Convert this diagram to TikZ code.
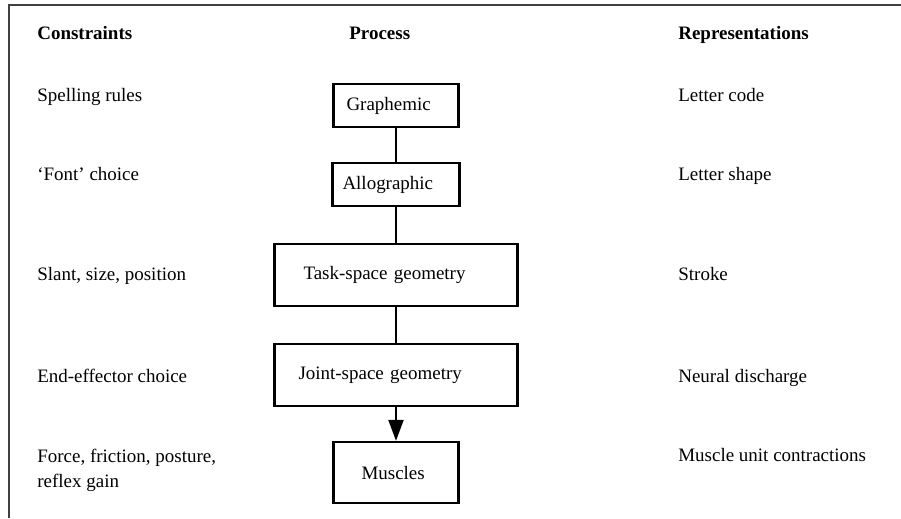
\documentclass[tikz,border=0pt]{standalone}
\usepackage{fontspec}
\setmainfont{Liberation Serif}
\usetikzlibrary{arrows.meta}

\begin{document}
\begin{tikzpicture}[
    txt/.style={anchor=base west, inner sep=0pt, align=left,
                font=\fontsize{10.8}{14.2}\selectfont},
    proc/.style={draw, line width=1.3pt, align=left, inner ysep=0pt,
                 font=\fontsize{10.8}{14.2}\selectfont},
    link/.style={line width=1.3pt},
    arr/.style={-{Triangle[length=4.2mm,width=3mm]}, line width=1.3pt},
    frame/.style={line width=1pt, black!75}
  ]
  \useasboundingbox (0,0) rectangle (18.02,-10.36);
  \draw[frame] (0.18,-10.36) -- (0.18,-0.1) -- (18.02,-0.1);

  % column heads
  \node[txt] (hcon) at (0.74,-0.78)  {\textbf{Constraints}};
  \node[txt] (hpro) at (6.98,-0.78)  {\textbf{Process}};
  \node[txt] (hrep) at (13.56,-0.78) {\textbf{Representations}};

  % process boxes
  \node[proc, inner xsep=2.6mm, text width=19.8mm, minimum height=8.6mm]
    (graph) at (7.92,-2.11) {Graphemic};
  \node[proc, inner xsep=2mm, text width=21.4mm, minimum height=8.6mm]
    (allo) at (7.92,-3.69) {Allographic};
  \node[proc, inner xsep=5.8mm, text width=37mm, minimum height=12.4mm]
    (task) at (7.92,-5.5) {Task-space geometry};
  \node[proc, inner xsep=4.8mm, text width=39mm, minimum height=12.4mm]
    (joint) at (7.92,-7.5) {Joint-space geometry};
  \node[proc, inner xsep=5.6mm, text width=13.8mm, minimum height=12.2mm]
    (musc) at (7.92,-9.45) {Muscles};

  \draw[link] (graph) -- (allo);
  \draw[link] (allo) -- (task);
  \draw[link] (task) -- (joint);
  \draw[arr] (joint) -- (musc);

  % constraints
  \node[txt] (c1) at (0.74,-2.02) {Spelling rules};
  \node[txt] (c2) at (0.74,-3.6)  {‘Font’ choice};
  \node[txt] (c3) at (0.74,-5.6)  {Slant, size, position};
  \node[txt] (c4) at (0.74,-7.64) {End-effector choice};
  \node[txt] (c5) at (0.74,-9.74) {Force, friction, posture,\\reflex gain};

  % representations
  \node[txt] (r1) at (13.56,-2.02) {Letter code};
  \node[txt] (r2) at (13.56,-3.6)  {Letter shape};
  \node[txt] (r3) at (13.56,-5.6)  {Stroke};
  \node[txt] (r4) at (13.56,-7.64) {Neural discharge};
  \node[txt] (r5) at (13.56,-9.22) {Muscle unit contractions};
\end{tikzpicture}
\end{document}
